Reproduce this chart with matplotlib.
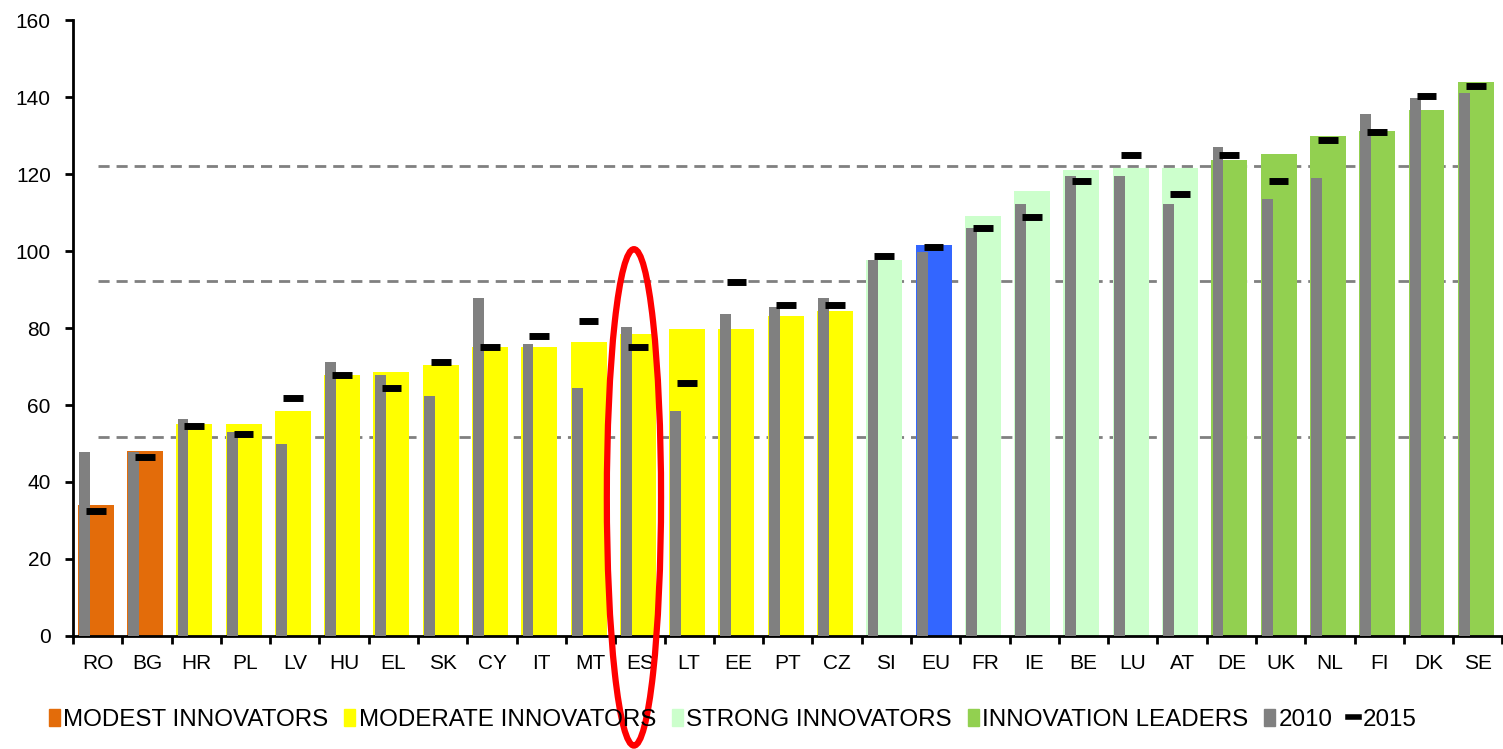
import matplotlib.pyplot as plt
from matplotlib.patches import Ellipse, Patch
from matplotlib.lines import Line2D
import numpy as np

plt.rcParams['font.family'] = ['Liberation Sans', 'DejaVu Sans']

countries = ['RO', 'BG', 'HR', 'PL', 'LV', 'HU', 'EL', 'SK', 'CY', 'IT', 'MT', 'ES', 'LT', 'EE', 'PT',
             'CZ', 'SI', 'EU', 'FR', 'IE', 'BE', 'LU', 'AT', 'DE', 'UK', 'NL', 'FI', 'DK', 'SE']
groups = ['modest'] * 2 + ['moderate'] * 14 + ['strong', 'eu'] + ['strong'] * 5 + ['leader'] * 6
current = [34.0, 48.0, 55.1, 55.1, 58.4, 67.8, 68.6, 70.4, 75.1, 75.1, 76.5, 78.4, 79.7, 79.7, 83.1,
           84.5, 97.8, 101.7, 109.0, 115.7, 121.0, 121.6, 121.6, 123.8, 125.2, 129.8, 131.2, 136.6, 143.9]
y2010 = [47.8, 47.8, 56.4, 53.0, 49.9, 71.2, 67.8, 62.3, 87.8, 75.8, 64.4, 80.3, 58.4, 83.7, 85.6,
         87.7, 97.7, 99.7, 106.1, 112.3, 119.6, 119.6, 112.3, 127.0, 113.6, 118.9, 135.6, 139.7, 141.0]
y2015 = [32.5, 46.5, 54.5, 52.5, 61.8, 67.8, 64.4, 71.2, 75.1, 77.9, 81.9, 75.1, 65.8, 91.9, 85.9,
         85.9, 98.6, 101.0, 106.1, 108.8, 118.1, 124.9, 114.8, 124.9, 118.1, 128.9, 131.0, 140.3, 143.0]
thresholds = [51.7, 92.2, 122.1]

colors = {'modest': '#E36C0A', 'moderate': '#FFFF00', 'strong': '#CCFFCC',
          'leader': '#92D050', 'eu': '#3366FF'}
gray = '#808080'

fig = plt.figure(figsize=(15.03, 7.49), dpi=100)
ax = fig.add_axes([0.0486, 0.151, 0.951, 0.822])

x = np.arange(len(countries))
ax.bar(x - 0.04, current, width=0.73, color=[colors[g] for g in groups], zorder=2)
ax.bar(x - 0.27, y2010, width=0.22, color=gray, zorder=3)
ax.hlines(y2015, x - 0.24, x + 0.16, color='black', lw=5, zorder=4)
ax.hlines(thresholds, 0, len(countries) - 1, color=gray, lw=2, linestyles=(0, (4, 2.5)), zorder=1)

ax.set_xlim(-0.5, len(countries) - 0.5)
ax.set_ylim(0, 160)
ax.set_yticks(range(0, 161, 20))
ax.set_xticks(x)
ax.set_xticklabels(countries)
ax.set_xticks(np.arange(-0.5, len(countries), 1), minor=True)
ax.tick_params(axis='x', which='major', length=0, labelsize=15, pad=13)
ax.tick_params(axis='x', which='minor', length=6, width=2, direction='out')
ax.tick_params(axis='y', length=6, width=2, labelsize=15, pad=10)
for s in ['top', 'right']:
    ax.spines[s].set_visible(False)
for s in ['left', 'bottom']:
    ax.spines[s].set_linewidth(2)

# red ellipse highlighting ES
es = countries.index('ES')
ax.add_patch(Ellipse((es - 0.12, 36), 1.1, 129, fill=False, edgecolor='#FF0000', lw=4.5,
                     clip_on=False, zorder=5))

handles = [Patch(color=colors['modest']), Patch(color=colors['moderate']),
           Patch(color=colors['strong']), Patch(color=colors['leader']), Patch(color=gray),
           Line2D([0], [0], color='black', lw=4)]
labels = ['MODEST INNOVATORS', 'MODERATE INNOVATORS', 'STRONG INNOVATORS',
          'INNOVATION LEADERS', '2010', '2015']
fig.legend(handles, labels, loc='center left', bbox_to_anchor=(0.018, 0.039), ncol=6, frameon=False,
           fontsize=17.4, handlelength=0.45, handleheight=0.75, handletextpad=0.15, columnspacing=0.65)

fig.savefig('out.png', dpi=100)
